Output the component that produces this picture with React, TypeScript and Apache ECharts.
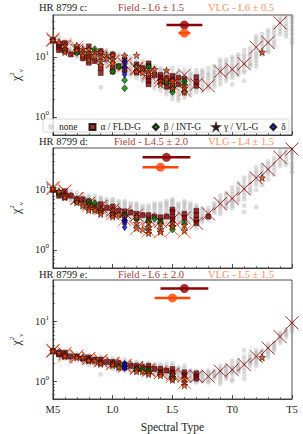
import React, { useEffect, useRef } from 'react';
import * as echarts from 'echarts';

// ---------- tick labels / titles ----------
const SPT_TICKS: Record<number, string> = { 0: 'M5', 5: 'L0', 10: 'L5', 15: 'T0', 20: 'T5' };
const PANEL_NAMES = ['HR 8799 c:', 'HR 8799 d:', 'HR 8799 e:'];
const FIELD_TITLES = ['Field - L6 ± 1.5', 'Field - L4.5 ± 2.0', 'Field - L6 ± 2.0'];
const VLG_TITLES = ['VLG - L6 ± 0.5', 'VLG - L4 ± 1.5', 'VLG - L5 ± 1.5'];
const LEGEND_NAMES = ['none', 'α / FLD-G', 'β / INT-G', 'γ / VL-G', 'δ'];

// spectral type index: M5 = 0, L0 = 5, L5 = 10, T0 = 15, T5 = 20

// ---------- HR 8799 c ----------
const cNone: [number, number[]][] = [
  [0, [22, 20, 18, 17]], [0.5, [21, 19, 17, 15]], [1, [19, 17, 15, 13, 12]],
  [1.5, [17, 15, 13, 12, 11]], [2, [16, 14, 13, 12, 11, 10]], [2.5, [15, 13, 12, 11, 10, 9]],
  [3, [14, 13, 12, 11, 10, 9, 8.5]], [3.5, [13, 12, 11, 10, 9, 8.5]],
  [4, [13, 12, 11, 10, 9, 8, 7.5, 3.1]], [4.5, [12, 11, 10, 9, 8.5, 8, 7]],
  [5, [12, 11, 10, 9, 8, 7.5, 7, 6.5]], [5.5, [11, 10, 9, 8, 7, 6.5, 6]],
  [6, [11, 10, 9, 8, 7, 6.5, 6, 5.5]], [6.5, [10, 9, 8, 7, 6.5, 6, 5.5, 5]],
  [7, [9, 8, 7, 6.5, 6, 5.5, 5, 4.5]], [7.5, [8.5, 7.5, 7, 6, 5.5, 5, 4.5, 4]],
  [8, [8, 7, 6, 5.5, 5, 4.5, 4, 3.5]], [8.5, [7, 6.5, 6, 5, 4.5, 4, 3.5, 3]],
  [9, [6.5, 6, 5.5, 5, 4.5, 4, 3.6, 3.2, 2.8]], [9.5, [6, 5.5, 5, 4.5, 4, 3.5, 3, 2.7, 2.4]],
  [10, [6.5, 5.5, 5, 4.5, 4, 3.5, 3, 2.6, 2.3, 2.0]], [10.5, [5.5, 5, 4.5, 4, 3.5, 3, 2.7, 2.4, 2.1, 1.9]],
  [11, [6, 5.2, 4.6, 4, 3.5, 3.1, 2.7, 2.4, 2.1]], [11.5, [5.5, 5, 4.5, 4, 3.6, 3.2, 2.9, 2.6, 2.3]],
  [12, [6, 5.2, 4.6, 4.1, 3.6, 3.2, 2.9, 2.6]], [12.5, [6, 5.5, 5, 4.5, 4, 3.5, 3.1, 2.8]],
  [13, [6.5, 5.5, 5, 4.5, 4, 3.5, 3.2, 2.9]], [13.5, [7, 6, 5.5, 5, 4.5, 4, 3.6, 3.2]],
  [14, [9, 8, 7, 6.5, 6, 5.5, 5, 4.5, 4, 3.5]], [14.5, [9, 8, 7, 6.5, 6, 5.5, 5, 4.5, 4]],
  [15, [10, 9, 8, 7, 6.5, 6, 5.5, 5, 4.5, 3.5]], [15.5, [11, 10, 9, 8, 7, 6.5, 6, 5.5, 5]],
  [16, [13, 11, 10, 9, 8, 7.5, 7, 6, 5.5, 4.0]], [16.5, [14, 12, 11, 10, 9, 8, 7.5, 7]],
  [17, [22, 20, 18, 16, 14, 12, 11, 10, 9, 8, 7]], [17.5, [24, 21, 19, 17, 15, 13, 12, 11]],
  [18, [28, 25, 22, 19, 17, 15, 13, 12]], [18.5, [32, 28, 25, 22, 19, 17, 15]],
  [19, [45, 40, 35, 30, 27, 24]], [19.5, [48, 42, 36, 32, 28, 25, 22]],
  [20, [48, 44, 38, 32, 28, 24, 20, 17]],
];
const cAlpha: number[][] = [
  [0, 19], [0.5, 16], [0.5, 14.5], [0.5, 13], [1, 17], [1, 12.5], [1.5, 11], [2, 14], [2, 12],
  [2.5, 9.5], [3, 15], [3, 10], [3, 8], [3.5, 8.5], [4, 12.5], [4, 6.5], [4, 5.4], [5, 11], [5, 6.5],
  [5, 5.7], [5.5, 7], [6, 9], [6, 6], [7, 7.5], [7, 5.5], [7.5, 6.5], [8, 7.8], [8, 7], [8, 4.5],
  [8, 4], [8, 3.5], [8.5, 5], [9, 5], [9, 4.5], [9, 3.8], [9.5, 4.5], [9.5, 3.8], [9.5, 3.2],
  [10, 4.8], [10, 4.2], [10, 3.2], [10.5, 4.5], [10.5, 3.5], [11, 4.3], [12, 4.6], [12, 3.8], [12, 3.3],
];
const cBeta: number[][] = [
  [1, 13], [2, 11.7], [3.5, 13.4], [5, 5.7], [5.5, 6.9], [6, 4.1], [6, 3.0], [7, 6.9], [8, 6.8],
  [9.5, 3.8], [10, 2.9], [10, 3.2], [10, 2.6], [11, 3.9], [11, 3.5], [11, 2.6],
];
const cGamma: number[][] = [
  [0, 19], [0.5, 17.5], [1, 15.5], [1, 13.5], [1, 12], [2, 15.5], [2, 13], [2.5, 13.5], [2.5, 12],
  [2.5, 10.7], [3, 13.4], [3, 11.3], [3, 10], [3, 8.9], [3.5, 12], [3.5, 10.7], [4, 12], [4, 10],
  [4, 8.3], [4, 7.3], [4.5, 10.7], [4.5, 9.5], [5, 10.7], [5, 9], [5, 8], [6, 10.5], [6, 7.5],
  [6, 6.5], [7, 10.7], [7, 6.9], [7, 5.7], [7.5, 6.3], [7.5, 5.5], [8, 5.8], [8, 5.2], [8.5, 6.2],
  [9, 4.0], [9, 3.5], [9.5, 6.0], [9.5, 4.2], [10, 3.5], [10, 3.0], [10, 4.0], [11, 3.3], [11, 3.0],
  [11, 2.6], [17.5, 12],
];
const cDelta: number[][] = [[6, 8.3], [6, 6.8], [6, 5.1]];
const cFieldStd: number[][] = [
  [0, 19], [1, 15], [2, 13], [3, 11], [4, 10], [5, 8.5], [6, 7.5], [7, 6.5], [8, 5.5], [9, 4.6],
  [10, 4.6], [11, 5.0], [12, 3.5], [13, 3.3], [14, 5.7], [15, 6.2], [16, 7.7], [17, 14.5], [18, 17.4],
  [19, 37],
];
const cVlgStd: number[][] = [
  [0, 20], [1, 16], [2, 14.5], [3, 12], [4, 10.8], [5, 8.3], [6, 7.4], [7, 6.2], [8, 5.1], [9, 4.0],
  [10, 3.5], [11, 2.8],
];
const cFieldFit = [11, 34, 1.5]; // [spt, chi2, ±]
const cVlgFit = [11, 25, 0.5];

// ---------- HR 8799 d ----------
const dNone: [number, number[]][] = [
  [0, [11, 10, 9.5]], [0.5, [10.5, 9.5, 8.5, 8]], [1, [10, 9, 8.5, 8, 7.5]],
  [1.5, [9.5, 8.5, 8, 7.5, 7, 6.5]], [2, [9, 8, 7.5, 7, 6.5, 6]], [2.5, [8.5, 7.5, 7, 6.5, 6, 5.5, 5]],
  [3, [8, 7.5, 7, 6.5, 6, 5.5, 5, 4.5]], [3.5, [8, 7, 6.5, 6, 5.5, 5, 4.6, 4.2]],
  [4, [7.5, 7, 6.5, 6, 5.5, 5, 4.5, 4, 3.6]], [4.5, [7, 6.5, 6, 5.5, 5, 4.5, 4, 3.6]],
  [5, [7, 6.5, 6, 5.5, 5, 4.5, 4, 3.6, 3.3]], [5.5, [6.5, 6, 5.5, 5, 4.5, 4, 3.6, 3.3]],
  [6, [6.5, 6, 5.5, 5, 4.5, 4, 3.6, 3.2, 2.8]], [6.5, [6, 5.5, 5, 4.5, 4, 3.6, 3.2, 2.8]],
  [7, [6, 5.5, 5, 4.5, 4, 3.6, 3.2, 2.8, 2.5]], [7.5, [5.5, 5, 4.5, 4, 3.6, 3.2, 2.9, 2.6]],
  [8, [5.5, 5, 4.5, 4, 3.6, 3.2, 2.9, 2.6, 2.3]], [8.5, [6, 5.5, 5, 4.5, 4, 3.6, 3.2, 2.8]],
  [9, [6, 5.5, 5, 4.5, 4, 3.6, 3.2, 2.8, 2.5]], [9.5, [6.5, 6, 5.5, 5, 4.5, 4, 3.6, 3.2, 2.8]],
  [10, [7, 6.5, 6, 5.5, 5, 4.5, 4, 3.6, 3.2, 2.8, 2.5]], [10.5, [6, 5.5, 5, 4.5, 4, 3.6, 3.2, 2.9]],
  [11, [6.5, 6, 5.5, 5, 4.5, 4, 3.6, 3.2, 2.9]], [11.5, [6, 5.5, 5, 4.5, 4, 3.6, 3.2]],
  [12, [5.5, 5, 4.5, 4, 3.6, 3.2, 2.9, 2.6, 2.3]], [12.5, [5, 4.5, 4, 3.6, 3.2, 2.9]],
  [13, [5, 4.5, 4.2, 3.8, 3.5, 3.2]], [13.5, [6, 5.5, 5, 4.5, 4.2]],
  [14, [8, 7, 6.5, 6, 5.5, 5, 4.5, 4]], [14.5, [9, 8, 7, 6.5, 6, 5.5, 5]],
  [15, [11, 9.5, 8.5, 7.5, 7, 6.5, 6, 5.5, 5]], [15.5, [13, 11, 10, 9, 8, 7, 6.5]],
  [16, [16, 14, 12, 11, 10, 9, 8, 7, 5.5, 4.3]], [16.5, [18, 16, 14, 12.5, 11, 10, 9]],
  [17, [24, 21, 19, 17, 15, 13.5, 12, 10, 5.2]], [17.5, [26, 23, 20, 18, 16, 14, 12]],
  [18, [30, 27, 24, 22, 20, 18, 15]], [18.5, [34, 30, 27, 24, 21, 18]],
  [19, [45, 40, 36, 32, 28, 25]], [19.5, [48, 42, 37, 33, 29, 26]],
  [20, [48, 44, 40, 34, 28, 24, 20]],
];
const dAlpha: number[][] = [
  [0, 10], [0.5, 9], [0.5, 8], [1, 9.5], [1, 7.5], [1.5, 8], [2, 7], [2, 6.5], [2.5, 7], [3, 6.5],
  [3, 6], [3.5, 5.5], [4, 5.8], [4, 4.6], [4.5, 5], [5, 5.3], [5, 4.2], [5, 3.8], [5.5, 4.5],
  [6, 4.4], [6, 3.8], [6.5, 4.2], [7, 4.0], [7, 3.4], [7.5, 3.8], [8, 3.8], [8, 3.2], [8.5, 3.6],
  [9, 3.5], [9, 3.0], [9.5, 3.6], [10, 4.7], [10, 4.3], [10, 3.6], [10, 3.2], [11, 4.0], [11, 3.4],
  [12, 4.5], [12, 3.8], [12, 3.2], [12, 2.8], [13, 3.6],
];
const dBeta: number[][] = [
  [0.5, 9], [2, 6.5], [3, 6.3], [3.5, 6.0], [6, 3.8], [7, 3.3], [8, 3.0], [8.5, 3.3], [9, 2.9],
  [10, 2.5], [10, 2.2], [11, 2.8],
];
const dGamma: number[][] = [
  [0, 10.5], [0.5, 9.5], [1, 8.5], [1, 8], [1, 7.5], [2, 7], [2, 6.2], [2.5, 6.0], [2.5, 5.5],
  [3, 5.6], [3, 5.0], [3, 4.6], [3.5, 5], [3.5, 4.6], [4, 4.8], [4, 4.4], [4, 4.0], [5, 4.6],
  [5, 4.0], [5, 3.6], [5.5, 3.9], [6, 3.6], [6, 3.0], [7, 3.6], [7, 2.8], [7, 2.3], [7.5, 2.2],
  [8, 2.8], [8, 2.4], [8, 2.1], [8, 1.9], [9, 2.7], [9, 2.2], [9, 2.0], [10, 2.8], [10, 2.5],
  [11, 2.1], [11, 2.6], [17.5, 16],
];
const dDelta: number[][] = [[6, 3.2], [6, 2.9], [6, 2.4]];
const dFieldStd: number[][] = [
  [0, 10.5], [1, 9.5], [2, 7.2], [3, 6], [4, 5.3], [5, 4.6], [6, 4.2], [7, 3.8], [8, 3.3], [9, 3.0],
  [10, 3.2], [11, 3.4], [12, 2.8], [13, 4.0], [14, 5.9], [15, 7.2], [16, 10.4], [17, 15.9], [18, 22],
  [19, 35], [20, 48],
];
const dVlgStd: number[][] = [
  [0, 11], [1, 9.6], [2, 7.1], [3, 5.5], [4, 4.9], [5, 4.0], [6, 3.2], [7, 2.3], [8, 2.1], [9, 2.0],
  [10, 2.2], [11, 2.0],
];
const dFieldFit = [9.5, 35, 2.0];
const dVlgFit = [9, 24, 1.5];

// ---------- HR 8799 e ----------
const eNone: [number, number[]][] = [
  [0, [3.4, 3.2, 3.0]], [0.5, [3.3, 3.1, 2.9, 2.7]], [1, [3.2, 3.0, 2.8, 2.6, 2.4]],
  [1.5, [3.0, 2.8, 2.6, 2.4, 2.2, 2.1]], [2, [2.9, 2.7, 2.5, 2.4, 2.2]],
  [2.5, [2.8, 2.6, 2.5, 2.3, 2.2, 2.0]], [3, [2.7, 2.5, 2.4, 2.2, 2.1, 1.9]],
  [3.5, [2.6, 2.4, 2.3, 2.1, 2.0, 1.9]], [4, [2.6, 2.4, 2.2, 2.1, 2.0, 1.8, 1.3]],
  [4.5, [2.5, 2.3, 2.2, 2.0, 1.9, 1.8]], [5, [2.4, 2.2, 2.1, 2.0, 1.9, 1.7, 1.6]],
  [5.5, [2.3, 2.2, 2.0, 1.9, 1.8, 1.7, 1.6]], [6, [2.3, 2.1, 2.0, 1.9, 1.8, 1.7, 1.6, 1.5]],
  [6.5, [2.2, 2.0, 1.9, 1.8, 1.7, 1.6, 1.5]], [7, [2.1, 2.0, 1.9, 1.8, 1.7, 1.6, 1.5, 1.4]],
  [7.5, [2.0, 1.9, 1.8, 1.7, 1.6, 1.5, 1.4]], [8, [2.0, 1.9, 1.8, 1.7, 1.6, 1.5, 1.4, 1.3]],
  [8.5, [1.9, 1.8, 1.7, 1.6, 1.5, 1.4, 1.3]], [9, [1.9, 1.8, 1.7, 1.6, 1.5, 1.4, 1.3, 1.2]],
  [9.5, [1.9, 1.7, 1.6, 1.5, 1.4, 1.3, 1.2]], [10, [2.0, 1.8, 1.6, 1.5, 1.4, 1.3, 1.2, 1.1, 1.0]],
  [10.5, [1.7, 1.6, 1.5, 1.4, 1.3, 1.2, 1.1]], [11, [1.8, 1.6, 1.5, 1.4, 1.3, 1.2, 1.1, 1.0, 0.9]],
  [11.5, [1.5, 1.4, 1.3, 1.2, 1.1, 1.0]], [12, [1.5, 1.4, 1.3, 1.2, 1.1, 1.0, 0.95]],
  [12.5, [1.4, 1.3, 1.2, 1.1, 1.0]], [13, [1.5, 1.4, 1.3, 1.2, 1.1, 1.0, 0.95]],
  [13.5, [1.5, 1.4, 1.3, 1.2, 1.1]], [14, [1.8, 1.6, 1.5, 1.4, 1.3, 1.2, 1.1, 1.0, 0.9]],
  [14.5, [1.8, 1.6, 1.5, 1.4, 1.3, 1.2, 1.1]], [15, [2.2, 1.9, 1.7, 1.6, 1.5, 1.4, 1.3, 1.1, 1.0]],
  [15.5, [2.2, 2.0, 1.8, 1.7, 1.6, 1.5, 1.4]], [16, [3.3, 2.6, 2.3, 2.0, 1.9, 1.7, 1.5, 1.3, 1.1]],
  [16.5, [2.8, 2.5, 2.3, 2.1, 2.0, 1.8]], [17, [3.3, 3.0, 2.8, 2.6, 2.4, 2.2, 2.0, 1.8]],
  [17.5, [3.3, 3.0, 2.7, 2.5, 2.3]], [18, [4.2, 3.8, 3.5, 3.2, 3.0, 2.8, 2.5]],
  [18.5, [4.5, 4.1, 3.8, 3.5, 3.2]], [19, [6.5, 6, 5.6, 5.2, 4.8, 4.4]],
  [19.5, [7.5, 7, 6.5, 6, 5.5]], [20, [10, 9.3, 8.6, 8, 7.4, 6.8]],
];
const eAlpha: number[][] = [
  [0, 3.2], [0.5, 3.0], [0.5, 2.8], [1, 3.0], [1, 2.6], [1.5, 2.6], [2, 2.6], [2.5, 2.4], [3, 2.5],
  [3, 2.2], [3.5, 2.3], [4, 2.3], [4, 2.0], [4.5, 2.1], [5, 2.1], [5, 1.9], [5.5, 2.0], [6, 1.9],
  [6, 1.7], [6.5, 1.8], [7, 1.8], [7, 1.6], [7.5, 1.7], [8, 1.8], [8, 1.6], [8, 1.45], [8.5, 1.6],
  [9, 1.6], [9, 1.4], [9.5, 1.5], [10, 1.6], [10, 1.4], [10, 1.25], [11, 1.4], [11, 1.25],
  [12, 1.35], [12, 1.2], [12, 1.1],
];
const eBeta: number[][] = [[5.5, 1.75], [7, 1.6], [7.5, 1.55], [8, 1.5], [10, 1.1], [10, 1.2]];
const eGamma: number[][] = [
  [0, 3.2], [0.5, 3.0], [1, 2.8], [1, 2.6], [2, 2.5], [2.5, 2.5], [3, 2.3], [3, 2.2], [3.5, 2.2],
  [4, 2.1], [4, 1.95], [5, 2.0], [5, 1.85], [5.5, 1.7], [6, 1.75], [7, 1.6], [7, 1.45], [7.5, 1.45],
  [8, 1.4], [8, 1.3], [9, 1.35], [9, 1.25], [10, 1.3], [10, 1.15], [10, 1.05], [11, 1.1], [11, 0.95],
  [11, 0.85], [17.5, 2.5],
];
const eDelta: number[][] = [[6, 1.95], [6, 1.8], [6, 1.65]];
const eFieldStd: number[][] = [
  [0, 3.2], [1, 2.9], [2, 2.6], [3, 2.4], [4, 2.2], [5, 2.0], [6, 1.8], [7, 1.7], [8, 1.55], [9, 1.4],
  [10, 1.3], [11, 1.22], [12, 1.2], [13, 1.2], [14, 1.47], [15, 1.55], [16, 1.9], [17, 2.6], [18, 3.6],
  [19, 5.6], [20, 9.5],
];
const eVlgStd: number[][] = [
  [0, 3.3], [1, 2.7], [2, 2.6], [3, 2.4], [4, 2.2], [5, 1.95], [6, 1.8], [7, 1.63], [8, 1.5], [9, 1.4],
  [10, 1.2], [11, 0.94],
];
const eFieldFit = [11, 36, 2.0];
const eVlgFit = [10, 25, 1.5];

// ---------- styles ----------
const FONT = 'Liberation Serif';
const DARKRED = '#8B0000';
const ORANGE = '#FF4500';
const GREEN = '#008000';
const BLUE = '#0000CD';
const X_PATH = 'path://M0,0L10,10M10,0L0,10';
const STAR_PATH = 'path://M50,2L62,38L98,38L69,59L80,95L50,73L20,95L31,59L2,38L38,38Z';
const GRID_TOPS = [15, 148, 280];
const GRID_H = 120;
const GRID_L = 39;
const GRID_W = 253;
const MINOR_Y = [0.6, 0.7, 0.8, 0.9, 2, 3, 4, 5, 6, 7, 8, 9, 20, 30, 40];

const panels = [
  { none: cNone, alpha: cAlpha, beta: cBeta, gamma: cGamma, delta: cDelta, fStd: cFieldStd, vStd: cVlgStd, fFit: cFieldFit, vFit: cVlgFit },
  { none: dNone, alpha: dAlpha, beta: dBeta, gamma: dGamma, delta: dDelta, fStd: dFieldStd, vStd: dVlgStd, fFit: dFieldFit, vFit: dVlgFit },
  { none: eNone, alpha: eAlpha, beta: eBeta, gamma: eGamma, delta: eDelta, fStd: eFieldStd, vStd: eVlgStd, fFit: eFieldFit, vFit: eVlgFit },
];

const flatCols = (cols: [number, number[]][]) => cols.flatMap(([x, ys]) => ys.map((y) => [x, y]));

function buildOption() {
  const grid: any[] = [];
  const xAxis: any[] = [];
  const yAxis: any[] = [];
  const series: any[] = [];
  const graphic: any[] = [];

  panels.forEach((p, i) => {
    grid.push({ left: GRID_L, top: GRID_TOPS[i], width: GRID_W, height: GRID_H, show: true, borderColor: '#222', borderWidth: 0.8, backgroundColor: 'transparent' });
    xAxis.push({
      type: 'value', gridIndex: i, min: 0, max: 20, interval: 5,
      axisLine: { show: true, lineStyle: { color: '#222', width: 0.8 } },
      axisTick: { show: true, inside: true, length: 4, lineStyle: { color: '#222', width: 0.8 } },
      minorTick: { show: true, splitNumber: 5, length: 2, lineStyle: { color: '#222', width: 0.6 } },
      splitLine: { show: false },
      axisLabel: {
        show: i === 2, margin: 5, fontFamily: FONT, fontSize: 10.5, color: '#222',
        formatter: (v: number) => SPT_TICKS[Math.round(v)] ?? '',
      },
      name: i === 2 ? 'Spectral Type' : '', nameLocation: 'middle', nameGap: 22,
      nameTextStyle: { fontFamily: FONT, fontSize: 11.5, color: '#222' },
    });
  });
  panels.forEach((p, i) => {
    yAxis.push({
      type: 'log', logBase: 10, gridIndex: i, min: 0.5, max: 50,
      axisLine: { show: true, lineStyle: { color: '#222', width: 0.8 } },
      axisTick: { show: true, inside: true, length: 4, customValues: [1, 10], lineStyle: { color: '#222', width: 0.8 } },
      splitLine: { show: false },
      axisLabel: {
        customValues: [1, 10], margin: 4, fontFamily: FONT, fontSize: 10.5, color: '#222', lineHeight: 14,
        formatter: (v: number) => (v > 5 ? '10{s|1}' : '10{s|0}'),
        rich: { s: { fontSize: 7, fontFamily: FONT, verticalAlign: 'top', lineHeight: 8, color: '#222' } },
      },
      name: '{c|χ}{p|2}{b|ν}', nameLocation: 'middle', nameGap: 21, nameRotate: 90,
      nameTextStyle: {
        fontFamily: FONT, color: '#222',
        rich: {
          c: { fontSize: 12, fontFamily: FONT, lineHeight: 16, color: '#222' },
          p: { fontSize: 7, fontFamily: FONT, verticalAlign: 'top', lineHeight: 8, color: '#222' },
          b: { fontSize: 7, fontFamily: FONT, verticalAlign: 'bottom', lineHeight: 8, color: '#222' },
        },
      },
    });
  });
  panels.forEach((p, i) => {
    yAxis.push({
      type: 'log', logBase: 10, gridIndex: i, min: 0.5, max: 50, position: 'left',
      axisLine: { show: false },
      axisTick: { show: true, inside: true, length: 2, customValues: MINOR_Y, lineStyle: { color: '#222', width: 0.6 } },
      axisLabel: { show: false },
      splitLine: { show: false },
    });
  });

  panels.forEach((p, i) => {
    const ax = { xAxisIndex: i, yAxisIndex: i };
    series.push({
      ...ax, type: 'scatter', name: 'none', data: flatCols(p.none), symbol: 'circle', symbolSize: 5, z: 1,
      itemStyle: { color: '#9a9a9a', opacity: 0.32 },
    });
    series.push({
      ...ax, type: 'scatter', name: 'field std', data: p.fStd, symbol: X_PATH, symbolSize: 13, z: 2,
      itemStyle: { color: 'none', borderColor: DARKRED, borderWidth: 1 },
    });
    series.push({
      ...ax, type: 'scatter', name: 'vlg std', data: p.vStd, symbol: X_PATH, symbolSize: 13, z: 2,
      itemStyle: { color: 'none', borderColor: ORANGE, borderWidth: 1 },
    });
    series.push({
      ...ax, type: 'scatter', name: LEGEND_NAMES[1], data: p.alpha, symbol: 'rect', symbolSize: 5, z: 3,
      itemStyle: { color: DARKRED, borderColor: '#000', borderWidth: 0.5 },
    });
    series.push({
      ...ax, type: 'scatter', name: LEGEND_NAMES[2], data: p.beta, symbol: 'diamond', symbolSize: [6, 7], z: 3,
      itemStyle: { color: GREEN, borderColor: '#000', borderWidth: 0.6 },
    });
    series.push({
      ...ax, type: 'scatter', name: LEGEND_NAMES[3], data: p.gamma, symbol: STAR_PATH, symbolSize: 7, z: 3,
      itemStyle: { color: ORANGE, borderColor: '#000', borderWidth: 0.6 },
    });
    series.push({
      ...ax, type: 'scatter', name: LEGEND_NAMES[4], data: p.delta, symbol: 'diamond', symbolSize: [5, 7], z: 3,
      itemStyle: { color: BLUE, borderColor: '#000', borderWidth: 0.5 },
    });
    const fits: [number[], string][] = [[p.fFit, DARKRED], [p.vFit, ORANGE]];
    fits.forEach(([f, col]) => {
      series.push({
        ...ax, type: 'line', name: 'fit bar', data: [[f[0] - f[2], f[1]], [f[0] + f[2], f[1]]],
        showSymbol: false, symbol: 'none', z: 4, lineStyle: { color: col, width: 2.5 }, silent: true,
      });
      series.push({
        ...ax, type: 'scatter', name: 'fit', data: [[f[0], f[1]]], symbol: 'circle', symbolSize: 9, z: 5,
        itemStyle: { color: col },
      });
    });

    const ty = [7, 141, 274][i];
    graphic.push({ type: 'text', x: GRID_L, y: ty, style: { text: PANEL_NAMES[i], fill: '#222', font: `10.5px "${FONT}"`, textVerticalAlign: 'middle', textAlign: 'left' } });
    graphic.push({ type: 'text', x: 151, y: ty, style: { text: FIELD_TITLES[i], fill: '#a84040', font: `10.5px "${FONT}"`, textVerticalAlign: 'middle', textAlign: 'center' } });
    graphic.push({ type: 'text', x: 241, y: ty, style: { text: VLG_TITLES[i], fill: '#ff8f66', font: `10.5px "${FONT}"`, textVerticalAlign: 'middle', textAlign: 'center' } });
  });

  graphic.push({ type: 'rect', shape: { x: 43, y: 119, width: 246, height: 13, r: 2 }, style: { fill: 'rgba(255,255,255,0.85)', stroke: '#cccccc', lineWidth: 0.8 }, z: 10 });

  return {
    animation: false,
    backgroundColor: '#fff',
    grid, xAxis, yAxis, series, graphic,
    legend: {
      data: LEGEND_NAMES, left: 48, top: 122, padding: 0, itemGap: 11, itemWidth: 6, itemHeight: 6,
      selectedMode: false, z: 11,
      textStyle: { fontFamily: FONT, fontSize: 9.5, color: '#222' },
    },
  };
}

export default function App() {
  const ref = useRef<HTMLDivElement>(null);
  useEffect(() => {
    if (!ref.current) return;
    const chart = echarts.init(ref.current, undefined, { renderer: 'svg' });
    chart.setOption(buildOption() as any);
    return () => chart.dispose();
  }, []);
  return <div ref={ref} style={{ position: 'fixed', left: 0, top: 0, width: 303, height: 434 }} />;
}
